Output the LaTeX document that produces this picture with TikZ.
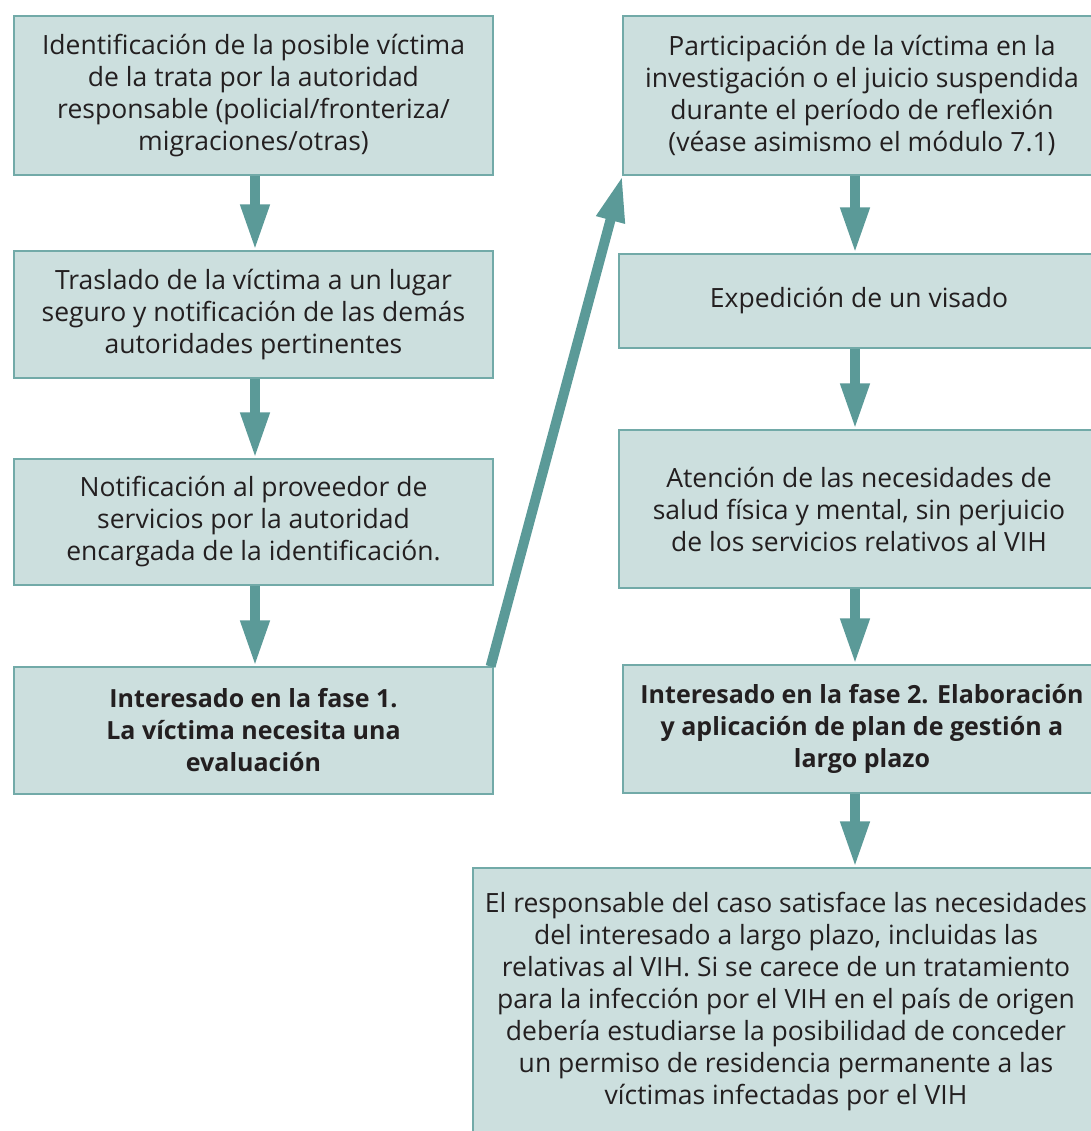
\documentclass[tikz,border=0pt]{standalone}
\usepackage{fontspec}
\setmainfont{Open Sans}
\usetikzlibrary{positioning,arrows.meta}

\definecolor{boxfill}{HTML}{CCDFDE}
\definecolor{boxline}{HTML}{72AAA8}
\definecolor{arrowcol}{HTML}{5B9A98}
\definecolor{txt}{HTML}{231F20}

\tikzset{
  stepbox/.style={draw=boxline, line width=1.2pt, fill=boxfill, align=center,
    inner sep=0pt, text=txt, font=\fontsize{26.5}{32}\selectfont},
  boldbox/.style={font=\fontsize{25}{32}\selectfont\bfseries},
  leftbox/.style={stepbox, minimum width=479pt},
  rightbox/.style={stepbox, minimum width=478pt},
  flow/.style={arrowcol, line width=10pt, -{Triangle[length=46pt,width=27pt]}},
}

\begin{document}
\begin{tikzpicture}[x=1pt,y=-1pt]
 \useasboundingbox (0,0) rectangle (1090,1131);
 % left column
 \node[leftbox, minimum height=159pt] (ident) at (253.5,95.5)
   {Identificación de la posible víctima\\de la trata por la autoridad\\responsable (policial/fronteriza/\\migraciones/otras)};
 \node[leftbox, minimum height=127pt] (traslado) at (253.5,314.5)
   {Traslado de la víctima a un lugar\\seguro y notificación de las demás\\autoridades pertinentes};
 \node[leftbox, minimum height=126pt] (notif) at (253.5,522)
   {Notificación al proveedor de\\servicios por la autoridad\\encargada de la identificación.};
 \node[leftbox, boldbox, minimum height=127pt] (fase1) at (253.5,730.5)
   {Interesado en la fase 1.\\La víctima necesita una\\evaluación};
 % right column
 \node[rightbox, minimum height=159pt] (partic) at (862,95.5)
   {Participación de la víctima en la\\investigación o el juicio suspendida\\durante el período de reflexión\\(véase asimismo el módulo 7.1)};
 \node[rightbox, minimum height=94pt, minimum width=480pt] (visado) at (859,301)
   {Expedición de un visado};
 \node[rightbox, minimum height=158pt, minimum width=480pt] (salud) at (859,509)
   {Atención de las necesidades de\\salud física y mental, sin perjuicio\\de los servicios relativos al VIH};
 \node[rightbox, boldbox, minimum height=128pt] (fase2) at (862,729)
   {Interesado en la fase 2. Elaboración\\y aplicación de plan de gestión a\\largo plazo};
 \node[stepbox, minimum width=626pt, minimum height=268pt] (largo) at (786,1002)
   {El responsable del caso satisface las necesidades\\del interesado a largo plazo, incluidas las\\relativas al VIH. Si se carece de un tratamiento\\para la infección por el VIH en el país de origen\\debería estudiarse la posibilidad de conceder\\un permiso de residencia permanente a las\\víctimas infectadas por el VIH};
 % arrows
 \draw[flow] ([xshift=1.5pt]ident.south) -- ([xshift=1.5pt]traslado.north);
 \draw[flow] ([xshift=1.5pt]traslado.south) -- ([xshift=1.5pt]notif.north);
 \draw[flow] ([xshift=1.5pt]notif.south) -- ([xshift=1.5pt]fase1.north);
 \draw[flow] ([xshift=-3pt]fase1.north east) -- (partic.south west);
 \draw[flow] ([xshift=-7pt]partic.south) -- ([xshift=-4pt]visado.north);
 \draw[flow] ([xshift=-4pt]visado.south) -- ([xshift=-4pt]salud.north);
 \draw[flow] ([xshift=-4pt]salud.south) -- ([xshift=-7pt]fase2.north);
 \draw[flow] ([xshift=-7pt]fase2.south) -- ([xshift=69pt]largo.north);
\end{tikzpicture}
\end{document}
